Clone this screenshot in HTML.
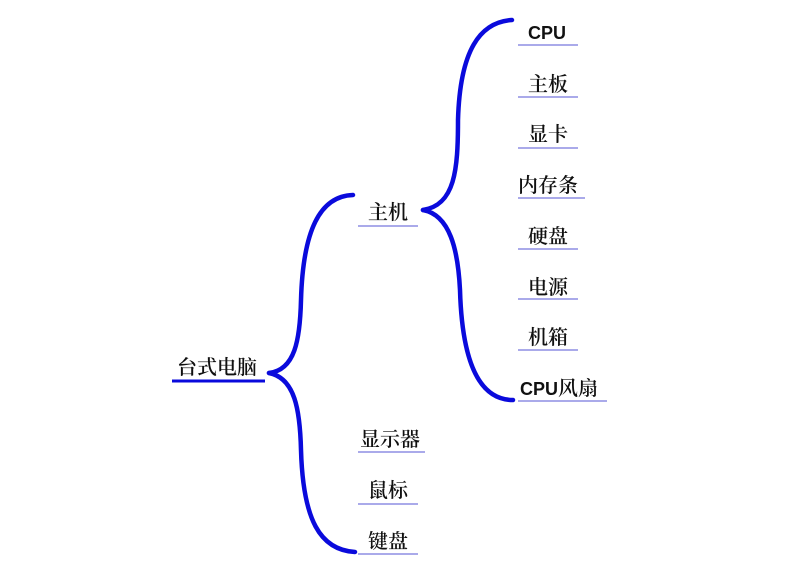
<!DOCTYPE html>
<html><head><meta charset="utf-8"><style>
html,body{margin:0;padding:0;background:#fff;}
.w{position:relative;width:800px;height:576px;overflow:hidden;background:#fff;font-family:"Liberation Serif","Noto Serif CJK SC",serif;}
svg{position:absolute;left:0;top:0;}
.t{position:absolute;font-size:20px;color:#111;white-space:nowrap;line-height:20px;font-weight:600;}
.b{font-family:"Liberation Sans","Noto Sans CJK SC",sans-serif;font-weight:bold;}
</style></head><body><div class="w">
<svg width="800" height="576">
<g fill="none" stroke="#0a0adc" stroke-width="4.5" stroke-linecap="round">
<path d="M269,373 C295,370 300,340 301,300 C303,230 320,196 353,195"/>
<path d="M269,373 C295,378 300,410 301,450 C303,520 320,550 355,552"/>
<path d="M423,210 C455,205 458,170 458,120 C460,50 480,22 512,20"/>
<path d="M423,210 C450,215 458,250 460,290 C462,360 478,400 513,400"/>
</g>
<g stroke="#0a0adc" stroke-width="3"><line x1="172" y1="381" x2="265" y2="381"/></g>
<g stroke="#7777dd" stroke-width="1.3">
<line x1="358" y1="226" x2="418" y2="226"/>
<line x1="518" y1="45" x2="578" y2="45"/>
<line x1="518" y1="97" x2="578" y2="97"/>
<line x1="518" y1="148" x2="578" y2="148"/>
<line x1="518" y1="198" x2="585" y2="198"/>
<line x1="518" y1="249" x2="578" y2="249"/>
<line x1="518" y1="299" x2="578" y2="299"/>
<line x1="518" y1="350" x2="578" y2="350"/>
<line x1="518" y1="401" x2="607" y2="401"/>
<line x1="358" y1="452" x2="425" y2="452"/>
<line x1="358" y1="504" x2="418" y2="504"/>
<line x1="358" y1="554" x2="418" y2="554"/>
</g>
</svg>
<div class="t" style="left:177px;top:358px;">台式电脑</div>
<div class="t" style="left:368px;top:203px;">主机</div>
<div class="t b" style="left:528px;top:23px;font-size:18px;">CPU</div>
<div class="t" style="left:528px;top:75px;">主板</div>
<div class="t" style="left:528px;top:125px;">显卡</div>
<div class="t" style="left:518px;top:176px;">内存条</div>
<div class="t" style="left:528px;top:227px;">硬盘</div>
<div class="t" style="left:528px;top:278px;">电源</div>
<div class="t" style="left:528px;top:328px;">机箱</div>
<div class="t" style="left:520px;top:379px;"><span class="b" style="font-size:18px;">CPU</span>风扇</div>
<div class="t" style="left:360px;top:430px;">显示器</div>
<div class="t" style="left:368px;top:481px;">鼠标</div>
<div class="t" style="left:368px;top:532px;">键盘</div>
</div></body></html>
